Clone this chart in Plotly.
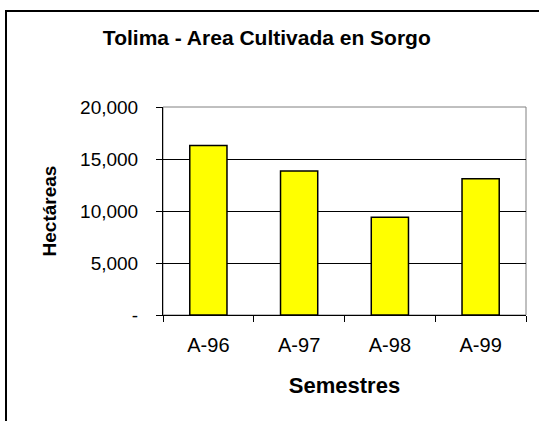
import plotly.graph_objects as go

semestres = ["A-96", "A-97", "A-98", "A-99"]
hectareas = [16300, 13850, 9400, 13100]
y_ticks = [0, 5000, 10000, 15000, 20000]
y_labels = ["-", "5,000", "10,000", "15,000", "20,000"]

fig = go.Figure()
fig.add_trace(go.Bar(
	x=semestres,
	y=hectareas,
	marker=dict(color="#FFFF00", line=dict(color="black", width=1.5)),
	width=0.41,
))

font = "Liberation Sans, Arial, sans-serif"
fig.update_layout(
	width=539, height=421,
	margin=dict(l=163, r=13, t=107, b=106),
	paper_bgcolor="white", plot_bgcolor="white",
	showlegend=False,
	font=dict(family=font, size=19, color="black"),
	title=dict(text="<b>Tolima - Area Cultivada en Sorgo</b>", x=0.495, xanchor="center",
		y=1 - 38 / 421, yanchor="middle", font=dict(size=21)),
	xaxis=dict(
		showline=True, linecolor="black", linewidth=1,
		ticks="outside", tickson="boundaries", ticklen=6, tickcolor="black",
		ticklabelstandoff=12, tickfont=dict(size=20),
		showgrid=False,
		title=dict(text="<b>Semestres</b>", standoff=22, font=dict(size=22)),
	),
	yaxis=dict(
		range=[0, 20000], tickvals=y_ticks, ticktext=y_labels,
		showline=True, linecolor="black", linewidth=1,
		ticks="outside", ticklen=6, tickcolor="black", ticklabelstandoff=14,
		showgrid=True, gridcolor="black", gridwidth=1, zeroline=False,
		title=dict(text="<b>Hectáreas</b>", standoff=18, font=dict(size=19)),
	),
	shapes=[
		# plot-area frame (grey top/right edges)
		dict(type="rect", xref="paper", yref="paper", x0=0, x1=1, y0=0, y1=1,
			line=dict(color="#808080", width=1), layer="below"),
		# outer chart border
		dict(type="rect", xref="paper", yref="paper", x0=-0.4325, x1=1.06, y0=-0.56, y1=1.4615,
			line=dict(color="black", width=2)),
	],
)

fig.write_html("out.html", config={"displayModeBar": False},
	post_script="document.body.style.margin='0';")
